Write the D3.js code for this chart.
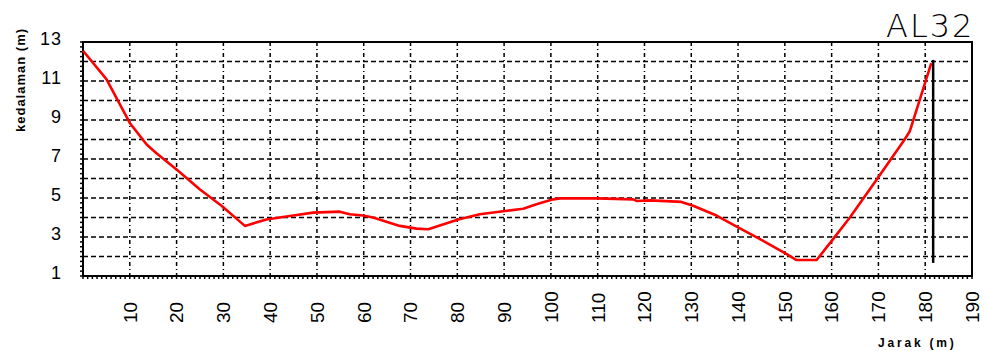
<!DOCTYPE html>
<html>
<head>
<meta charset="utf-8">
<script src="https://cdn.jsdelivr.net/npm/d3@7"></script>
<style>
  html, body { margin: 0; padding: 0; background: #fff; }
  svg { display: block; }
</style>
</head>
<body>
<svg id="chart" width="987" height="351"></svg>
<script>
// ---- data ----
const title = "AL32";
const yAxisTitle = "kedalaman (m)";
const xAxisTitle = "Jarak (m)";
const jarak = [0, 5, 10, 13.6, 15.7, 20, 25, 29.6, 34.6, 39.2, 44.2, 49.2, 54.9, 57, 59.8, 62, 67.7, 71.3, 73.8, 80.2, 84.8, 90.2, 94.1, 96.9, 100.5, 102, 110, 117.6, 118.3, 121.2, 127.9, 130.4, 135.4, 140, 144.7, 150.4, 152.5, 156.8, 160.3, 163.9, 169.9, 175.6, 176.7, 181.3];
const kedalaman = [12.55, 11.1, 8.85, 7.74, 7.3, 6.46, 5.44, 4.6, 3.57, 3.9, 4.08, 4.25, 4.3, 4.17, 4.1, 4.0, 3.57, 3.43, 3.4, 3.9, 4.17, 4.33, 4.45, 4.68, 4.93, 4.98, 4.98, 4.93, 4.85, 4.88, 4.8, 4.6, 4.1, 3.49, 2.89, 2.12, 1.82, 1.82, 2.89, 4.0, 6.04, 8.0, 8.42, 11.92];
const markerJarak = [181.7, 181.7];
const markerKedalaman = [12.08, 1.67];
const xTicks = [10, 20, 30, 40, 50, 60, 70, 80, 90, 100, 110, 120, 130, 140, 150, 160, 170, 180, 190];
const yTicks = [1, 3, 5, 7, 9, 11, 13];
const yGrid = [2, 3, 4, 5, 6, 7, 8, 9, 10, 11, 12];

// ---- layout ----
const L = 83, R = 972, T = 42, B = 276;
const svg = d3.select("#chart");
const x = d3.scaleLinear().domain([0, 190]).range([L, R]);
const y = d3.scaleLinear().domain([1, 13]).range([B, T]);

// grid
svg.append("g").selectAll("line").data(yGrid).join("line")
  .attr("x1", L).attr("x2", R)
  .attr("y1", d => y(d)).attr("y2", d => y(d))
  .attr("stroke", "#000").attr("stroke-width", 1.5)
  .attr("stroke-dasharray", "5,3");
svg.append("g").selectAll("line").data(xTicks.filter(d => d < 190)).join("line")
  .attr("x1", d => x(d)).attr("x2", d => x(d))
  .attr("y1", T).attr("y2", B)
  .attr("stroke", "#000").attr("stroke-width", 1.5)
  .attr("stroke-dasharray", "4,3,1,3");

// minor ticks
svg.append("g").selectAll("line").data(d3.range(0, 191, 1)).join("line")
  .attr("x1", d => x(d)).attr("x2", d => x(d))
  .attr("y1", B).attr("y2", B + 3)
  .attr("stroke", "#000").attr("stroke-width", 1.5);
svg.append("g").selectAll("line").data(d3.range(1, 13.01, 0.25)).join("line")
  .attr("x1", L - 3).attr("x2", L)
  .attr("y1", d => y(d)).attr("y2", d => y(d))
  .attr("stroke", "#000").attr("stroke-width", 1.5);

// frame
svg.append("rect").attr("x", L).attr("y", T).attr("width", R - L).attr("height", B - T)
  .attr("fill", "none").attr("stroke", "#000").attr("stroke-width", 2);

// marker line
const line = d3.line().x(d => x(d[0])).y(d => y(d[1]));
svg.append("path").datum(d3.zip(markerJarak, markerKedalaman))
  .attr("d", line).attr("fill", "none").attr("stroke", "#000").attr("stroke-width", 2.5);

// profile
svg.append("path").datum(d3.zip(jarak, kedalaman))
  .attr("d", line).attr("fill", "none").attr("stroke", "#ff0000")
  .attr("stroke-width", 2.6).attr("stroke-linejoin", "round");

// y tick labels
svg.append("g").selectAll("text").data(yTicks).join("text")
  .attr("x", 62).attr("y", d => y(d) + 3)
  .attr("text-anchor", "end")
  .attr("font-family", "'Liberation Sans', Arial, sans-serif")
  .attr("font-size", 18).attr("letter-spacing", 1)
  .text(d => d);

// x tick labels
svg.append("g").selectAll("text").data(xTicks).join("text")
  .attr("transform", d => `translate(${x(d)},323) rotate(-90)`)
  .attr("dy", "0.36em")
  .attr("text-anchor", "start")
  .attr("font-family", "'Liberation Sans', Arial, sans-serif")
  .attr("font-size", 19)
  .text(d => d);

// axis titles
svg.append("text")
  .attr("transform", "translate(25,80) rotate(-90)")
  .attr("text-anchor", "middle")
  .attr("font-family", "'Liberation Sans', Arial, sans-serif")
  .attr("font-size", 13).attr("font-weight", "bold").attr("letter-spacing", 1)
  .text(yAxisTitle);
svg.append("text")
  .attr("x", 878).attr("y", 347)
  .attr("font-family", "'Liberation Sans', Arial, sans-serif")
  .attr("font-size", 12).attr("font-weight", "bold").attr("letter-spacing", 2.8)
  .text(xAxisTitle);

// title
svg.append("text")
  .attr("x", 886).attr("y", 37)
  .attr("font-family", "'DejaVu Sans', sans-serif")
  .attr("font-size", 32).attr("font-weight", 200).attr("letter-spacing", 2)
  .text(title);
</script>
</body>
</html>
